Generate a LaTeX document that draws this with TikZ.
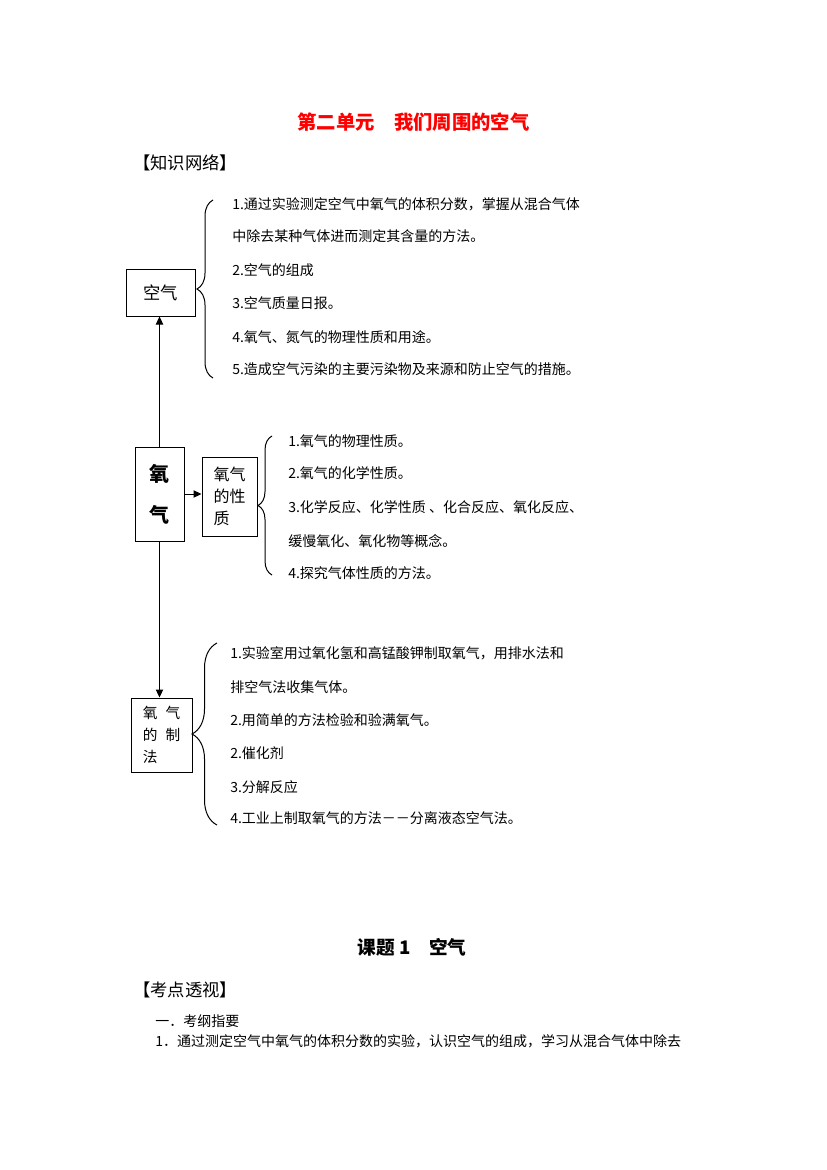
\documentclass[tikz,border=0pt]{standalone}
\usepackage{fontspec}
\setmainfont{Noto Sans CJK SC}
\usetikzlibrary{arrows.meta,decorations.pathreplacing}
\definecolor{titlered}{RGB}{255,0,0}
\tikzset{
  itemtext/.style={anchor=west,inner sep=0pt,font=\fontsize{10.5pt}{12pt}\selectfont},
  conbox/.style={draw,line width=0.75pt,inner sep=0pt,align=left},
  conarrow/.style={line width=0.75pt,-{Triangle[length=6pt,width=5.5pt]}},
  sidebrace/.style={line width=0.75pt,decorate,decoration={brace,amplitude=#1}},
}
\begin{document}
\begin{tikzpicture}[x=0.75pt,y=0.75pt,yscale=-1,xscale=1]
        \useasboundingbox (0,0) rectangle (827,1170);
        % Title
        \draw (413.5,122) node [text=titlered,font=\fontsize{14.5pt}{16pt}\selectfont\bfseries] (title) {第二单元　我们周围的空气};
        \draw (133,163) node [anchor=west,inner sep=0pt,font=\fontsize{13pt}{15pt}\selectfont] (network) {【知识网络】};

        % Boxes
        \draw (160.5,292.5) node [conbox,minimum width=51.75pt,minimum height=35.25pt,font=\fontsize{13pt}{15pt}\selectfont] (kongqi) {空气};
        \draw (159.5,494) node [conbox,align=center,minimum width=36.75pt,minimum height=70.5pt,font=\fontsize{15pt}{17pt}\selectfont\bfseries] (yangqi) {氧\\[14pt]气};
        \draw (229.5,496.5) node [conbox,minimum width=41.25pt,minimum height=59.25pt,font=\fontsize{12pt}{16.5pt}\selectfont] (xingzhi) {氧气\\的性\\质};
        \draw (161.5,735) node [conbox,minimum width=45.75pt,minimum height=55.5pt,font=\fontsize{11pt}{16.5pt}\selectfont] (zhifa) {氧\hspace{0.55em}气\\的\hspace{0.55em}制\\法};

        % Arrows
        \draw [conarrow] (yangqi.north) -- (yangqi.north |- kongqi.south);
        \draw [conarrow] (yangqi.east) -- (yangqi.east -| xingzhi.west);
        \draw [conarrow] (yangqi.south) -- (yangqi.south |- zhifa.north);

        % Braces
        \draw [sidebrace=12pt] (213,378) -- (213,200);
        \draw [sidebrace=10.5pt] (272,575) -- (272,436);
        \draw [sidebrace=18.75pt] (217,825) -- (217,643);

        % Text Node
        \draw (232,204) node [itemtext] (air1) {1.通过实验测定空气中氧气的体积分数，掌握从混合气体};
        \draw (232,236) node [itemtext] (air1b) {中除去某种气体进而测定其含量的方法。};
        \draw (232,270) node [itemtext] (air2) {2.空气的组成};
        \draw (232,303) node [itemtext] (air3) {3.空气质量日报。};
        \draw (232,337) node [itemtext] (air4) {4.氧气、氮气的物理性质和用途。};
        \draw (232,369) node [itemtext] (air5) {5.造成空气污染的主要污染物及来源和防止空气的措施。};

        \draw (288,441) node [itemtext] (prop1) {1.氧气的物理性质。};
        \draw (288,473) node [itemtext] (prop2) {2.氧气的化学性质。};
        \draw (288,507) node [itemtext] (prop3) {3.化学反应、化学性质 、化合反应、氧化反应、};
        \draw (288,541) node [itemtext] (prop3b) {缓慢氧化、氧化物等概念。};
        \draw (288,573) node [itemtext] (prop4) {4.探究气体性质的方法。};

        \draw (230,653) node [itemtext] (prep1) {1.实验室用过氧化氢和高锰酸钾制取氧气，用排水法和};
        \draw (230,687) node [itemtext] (prep1b) {排空气法收集气体。};
        \draw (230,720) node [itemtext] (prep2) {2.用简单的方法检验和验满氧气。};
        \draw (230,753) node [itemtext] (prep3) {2.催化剂};
        \draw (230,787) node [itemtext] (prep4) {3.分解反应};
        \draw (230,818) node [itemtext] (prep5) {4.工业上制取氧气的方法－－分离液态空气法。};

        % Lesson
        \draw (412,947) node [font=\fontsize{14pt}{16pt}\selectfont\bfseries] (lesson) {课题 1　空气};
        \draw (133,990) node [anchor=west,inner sep=0pt,font=\fontsize{13pt}{15pt}\selectfont] (focus) {【考点透视】};
        \draw (155,1021) node [itemtext] (outline) {一．考纲指要};
        \draw (155,1041) node [itemtext] (outline1) {1．通过测定空气中氧气的体积分数的实验，认识空气的组成，学习从混合气体中除去};

\end{tikzpicture}
\end{document}
